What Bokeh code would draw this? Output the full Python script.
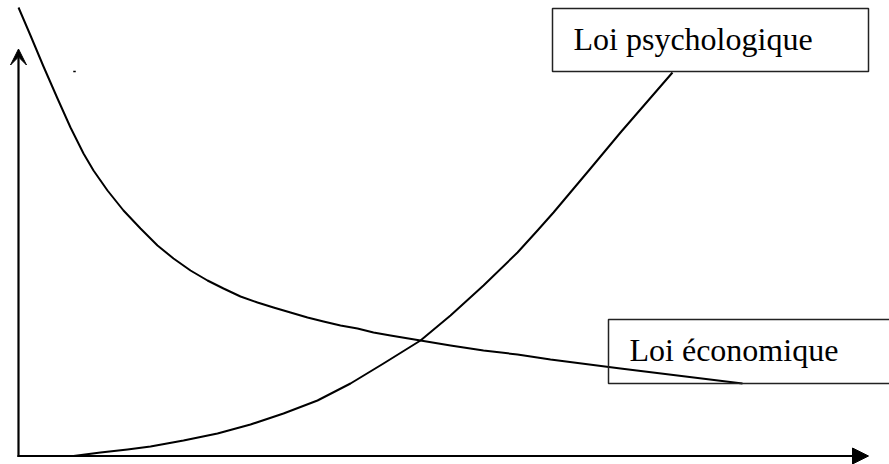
from bokeh.plotting import figure
from bokeh.models import Range1d, Arrow, VeeHead, NormalHead, ColumnDataSource
from bokeh.core.properties import value
from bokeh.embed import file_html
from bokeh.resources import INLINE

# Economic law curve (decreasing)
econ_x = [0, 12, 25, 39, 52, 65, 75, 89, 105, 122, 139, 155, 172, 189, 205, 222, 239, 255,
          272, 289, 305, 322, 339, 355, 372, 402, 432, 465, 499, 532, 602, 724]
econ_y = [448.5, 420.5, 389.5, 357.5, 328.5, 302.5, 285.5, 265.5, 245.5, 227.5, 210.5, 197.5,
          185.5, 175.5, 167.5, 159.5, 153.5, 148.5, 143.5, 138.5, 134.5, 130.5, 127.5, 123.5,
          120.5, 115.5, 110.5, 105.5, 101.5, 96.5, 87.5, 72.5]

# Psychological law curve (increasing)
psych_x = [55, 82, 109, 132, 165, 199, 232, 265, 299, 332, 365, 402, 432, 465, 499, 519,
           535, 572, 602, 654]
psych_y = [0, 3.5, 6.5, 9.5, 15.5, 22.5, 31.5, 42.5, 55.5, 72.5, 92.5, 115.5, 140.5, 170.5,
           203.5, 225.5, 243.5, 287.5, 323.5, 383.5]

labels = ["Loi psychologique", "Loi économique"]

p = figure(width=889, height=464, output_backend="svg", toolbar_location=None,
           x_range=Range1d(-18, 871), y_range=Range1d(-8.5, 455.5),
           min_border=0, outline_line_color=None)
p.axis.visible = False
p.grid.visible = False
p.background_fill_color = "white"

# Axes with arrows
p.add_layout(Arrow(end=VeeHead(size=16, line_color="black", fill_color="black", line_width=1),
                   x_start=0, y_start=-1, x_end=0, y_end=407,
                   line_color="black", line_width=2.2))
p.add_layout(Arrow(end=NormalHead(size=16, line_color="black", fill_color="black", line_width=1),
                   x_start=-1, y_start=0, x_end=850, y_end=0,
                   line_color="black", line_width=2.2))

# Curves
p.line(econ_x, econ_y, line_color="black", line_width=2, line_join="round")
p.line(psych_x, psych_y, line_color="black", line_width=2, line_join="round")

# Label boxes
p.quad(left=[534, 590], right=[850, 900], bottom=[384.5, 72.5], top=[447.5, 136.5],
       fill_color=None, line_color="#222222", line_width=1.5)

# Stray mark
p.rect(x=[56], y=[384.5], width=2.5, height=1.5, fill_color="black", line_color=None)

src = ColumnDataSource(dict(x=[555, 611], y=[417.5, 106.5], t=labels))
p.text(x="x", y="y", text="t", source=src, text_font=value("Liberation Serif"),
       text_font_size="32px", text_color="black", text_baseline="alphabetic",
       text_align="left")

open("out.html", "w").write(file_html(p, INLINE))
